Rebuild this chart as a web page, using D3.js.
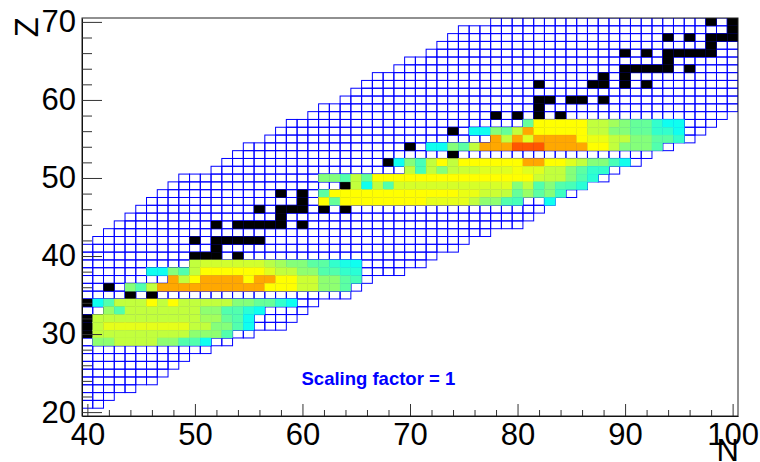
<!DOCTYPE html>
<html>
<head>
<meta charset="utf-8">
<script src="https://cdn.jsdelivr.net/npm/d3@7"></script>
<style>
  body { margin: 0; background: #fff; }
  svg { display: block; }
</style>
</head>
<body>
<svg id="chart" width="760" height="462"></svg>
<script>
// Known nuclides per element: [Z, lightest N, heaviest N] (clipped to the N range shown)
const nuclideRows = [
  [70,78,100],[69,75,100],[68,74,100],[67,73,100],[66,72,100],[65,70,100],
  [64,69,100],[63,67,100],[62,66,100],[61,65,100],[60,64,100],[59,62,100],
  [58,61,99],[57,59,98],[56,58,97],[55,57,96],[54,55,94],[53,54,92],
  [52,53,91],[51,52,89],[50,49,88],[49,48,86],[48,47,85],[47,46,83],
  [46,45,82],[45,44,81],[44,43,80],[43,42,77],[42,41,75],[41,40,74],
  [40,40,72],[39,40,71],[38,40,69],[37,40,66],[36,40,65],[35,40,64],
  [34,40,61],[33,40,60],[32,40,59],[31,40,58],[30,40,55],[29,40,53],
  [28,40,51],[27,40,49],[26,40,48],[25,40,47],[24,40,46],[23,40,44],
  [22,40,42],[21,40,41]
];

// Stable isotopes: [Z, [N, ...]]
const stableIsotopes = [
  [70,[98,100]],[69,[100]],[68,[94,96,98,99,100]],[67,[98]],
  [66,[90,92,94,95,96,97,98]],[65,[94]],[64,[90,91,92,93,94,96]],
  [63,[88,90]],[62,[82,87,88,90,92]],[60,[82,83,85,86,88]],[59,[82]],
  [58,[78,80,82,84]],[57,[82]],[56,[74,76,78,79,80,81,82]],[55,[78]],
  [54,[70,72,74,75,76,77,78,80,82]],[53,[74]],[52,[68,70,71,72,73,74,76,78]],
  [51,[70,72]],[50,[62,64,65,66,67,68,69,70,72,74]],[49,[64]],
  [48,[58,60,62,63,64,66]],[47,[60,62]],[46,[56,58,59,60,62,64]],[45,[58]],
  [44,[52,54,55,56,57,58,60]],[42,[50,52,53,54,55,56]],[41,[52]],
  [40,[50,51,52,54]],[39,[50]],[38,[46,48,49,50]],[37,[48]],
  [36,[42,44,46,47,48,50]],[35,[44,46]],[34,[40,42,43,44,46]],[33,[42]],
  [32,[40,41,42]],[31,[40]],[30,[40]]
];

// Yields on a 0-100 colour scale, heavy group: [Z, first N, values...]
const yieldsHeavy = [
  [57,81,[20,50,50,50,50,50,38,38,32,26,20,20,10,3,3]],
  [56,76,[3,3,26,20,38,67,50,50,50,50,50,38,38,26,26,20,20,10,10,3]],
  [55,78,[67,38,67,44,67,67,67,67,50,46,46,38,38,26,26,18,18,10]],
  [54,72,[3,3,26,18,38,67,67,67,83,83,83,67,67,67,67,50,50,38,26,26,26,16]],
  [52,69,[3,26,14,38,50,38,50,50,50,50,50,50,67,67,50,50,44,38,26,26,14,4]],
  [51,70,[38,14,38,26,38,40,40,44,44,44,48,44,44,38,38,26,18,10,10]],
  [50,62,[26,26,16,38,20,50,50,50,50,50,50,50,50,50,50,50,50,50,50,50,40,38,38,26,16,8]],
  [49,65,[38,3,38,16,42,42,42,42,42,42,42,42,42,42,44,26,38,16,26,16,14,8]],
  [48,62,[18,50,50,50,50,50,50,50,50,50,50,50,50,46,46,40,40,38,20,30,18,26,12]],
  [47,62,[50,20,50,50,50,50,50,50,50,50,45,45,45,45,38,28,28,16,14,null,null,3]]
];

// Light group
const yieldsLight = [
  [39,50,[38,41,41,41,41,41,41,36,32,26,26,18,18,10,5,3]],
  [38,46,[3,3,26,16,38,50,50,50,50,50,50,44,38,38,28,28,16,16,10,8]],
  [37,48,[67,38,50,67,67,67,67,50,67,67,50,50,40,40,28,28,18,14]],
  [36,44,[26,16,38,67,67,67,67,67,67,67,67,67,67,50,50,50,40,40,28,28,18]],
  [34,41,[3,16,38,38,38,50,38,50,38,38,38,38,38,26,26,20,20,10,3]],
  [33,42,[30,16,38,38,38,38,38,38,38,28,28,16,16,8,3]],
  [32,41,[38,38,38,38,38,38,38,38,38,38,32,32,20,16,3]],
  [31,41,[38,45,45,45,45,45,45,45,45,38,38,26,26,16,3]],
  [30,41,[38,38,38,38,38,38,38,38,38,28,28,28,16]],
  [29,41,[28,28,38,38,38,38,28,28,16,16,3]]
];

const xMajor = [40, 50, 60, 70, 80, 90, 100];
const yMajor = [20, 30, 40, 50, 60, 70];
const xMinor = d3.range(40, 101, 2).filter(v => v % 10 !== 0);
const yMinor = d3.range(20, 71, 2).filter(v => v % 10 !== 0);

const W = 760, H = 462;
const frame = { left: 82, right: 738, top: 18, bottom: 416 };

const x = d3.scaleLinear().domain([39.5, 100.5]).range([frame.left, frame.right]);
const y = d3.scaleLinear().domain([19.5, 70.5]).range([frame.bottom, frame.top]);
const color = d3.scaleLinear().domain([0, 50, 100])
  .range(["#00ffff", "#ffff00", "#ff0000"]).interpolate(d3.interpolateRgb);

const svg = d3.select("#chart");
svg.append("rect").attr("width", W).attr("height", H).attr("fill", "#fff");

svg.append("defs").append("clipPath").attr("id", "frameClip")
  .append("rect")
  .attr("x", frame.left).attr("y", frame.top)
  .attr("width", frame.right - frame.left).attr("height", frame.bottom - frame.top);

const plot = svg.append("g").attr("clip-path", "url(#frameClip)");

const cell = sel => sel
  .attr("x", d => x(d.n - 0.5))
  .attr("y", d => y(d.z + 0.5))
  .attr("width", d => x(d.n + 0.5) - x(d.n - 0.5))
  .attr("height", d => y(d.z - 0.5) - y(d.z + 0.5));

// outline of every known nuclide
const boxes = nuclideRows.flatMap(([z, n0, n1]) => d3.range(n0, n1 + 1).map(n => ({ z, n })));
plot.append("g").selectAll("rect").data(boxes).join("rect")
  .call(cell)
  .attr("fill", "none")
  .attr("stroke", "#0000ff")
  .attr("stroke-width", 1);

// stable nuclei
const stable = stableIsotopes.flatMap(([z, ns]) => ns.map(n => ({ z, n })));
plot.append("g").selectAll("rect").data(stable).join("rect")
  .call(cell)
  .attr("fill", "#000");

// measured yields
const yieldCells = yieldsHeavy.concat(yieldsLight).flatMap(([z, n0, vals]) =>
  vals.map((v, i) => ({ z, n: n0 + i, v })).filter(d => d.v !== null));
plot.append("g").selectAll("rect").data(yieldCells).join("rect")
  .call(cell)
  .attr("fill", d => color(d.v))
  .attr("stroke", d => color(d.v))
  .attr("stroke-width", 0.4);

// axes
const font = "'Liberation Sans', Arial, Helvetica, sans-serif";

const xAxis = svg.append("g").attr("transform", `translate(0,${frame.bottom})`)
  .call(d3.axisBottom(x).tickValues(xMajor).tickSizeInner(-12).tickSizeOuter(0)
    .tickPadding(7).tickFormat(d3.format("d")));
svg.append("g").attr("transform", `translate(0,${frame.bottom})`)
  .call(d3.axisBottom(x).tickValues(xMinor).tickSizeInner(-6).tickSizeOuter(0).tickFormat(""))
  .call(g => g.select(".domain").remove());

const yAxis = svg.append("g").attr("transform", `translate(${frame.left},0)`)
  .call(d3.axisLeft(y).tickValues(yMajor).tickSizeInner(-20).tickSizeOuter(0)
    .tickPadding(6).tickFormat(d3.format("d")));
svg.append("g").attr("transform", `translate(${frame.left},0)`)
  .call(d3.axisLeft(y).tickValues(yMinor).tickSizeInner(-10).tickSizeOuter(0).tickFormat(""))
  .call(g => g.select(".domain").remove());

svg.selectAll(".tick line").attr("stroke", "#333");
[xAxis, yAxis].forEach(g => g.selectAll("text")
  .attr("font-family", font).attr("font-size", 31).attr("fill", "#000"));

// frame
svg.append("rect")
  .attr("x", frame.left).attr("y", frame.top)
  .attr("width", frame.right - frame.left).attr("height", frame.bottom - frame.top)
  .attr("fill", "none").attr("stroke", "#222").attr("stroke-width", 1);

// axis titles
svg.append("text")
  .attr("x", 739).attr("y", 461)
  .attr("text-anchor", "end")
  .attr("font-family", font).attr("font-size", 31)
  .text("N");
svg.append("text")
  .attr("transform", "translate(38,17) rotate(-90)")
  .attr("text-anchor", "end")
  .attr("font-family", font).attr("font-size", 33)
  .text("Z");

// annotation
svg.append("text")
  .attr("x", 301.5).attr("y", 385)
  .attr("font-family", font).attr("font-size", 18.5).attr("font-weight", "bold")
  .attr("fill", "#0000ff")
  .text("Scaling factor = 1");
</script>
</body>
</html>
